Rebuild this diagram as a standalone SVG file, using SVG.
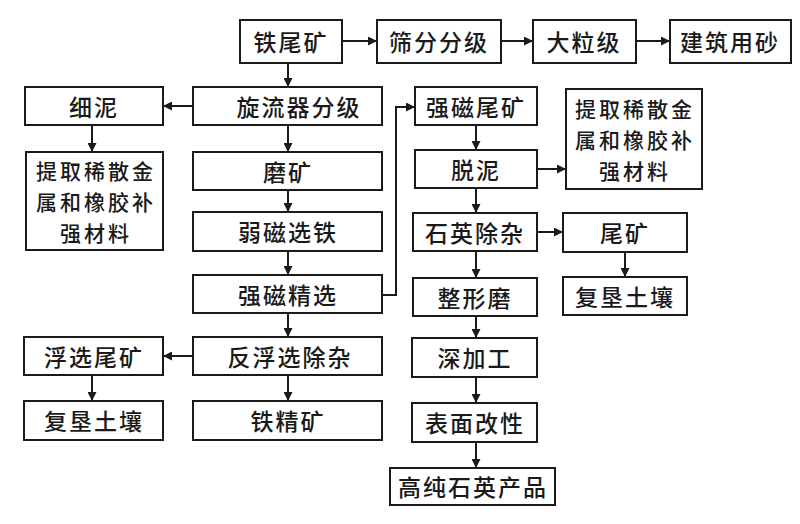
<svg xmlns="http://www.w3.org/2000/svg" width="800" height="524" viewBox="0 0 800 524">
<defs>
<marker id="ah" viewBox="0 0 10 10" refX="10" refY="5" markerWidth="9" markerHeight="9" markerUnits="userSpaceOnUse" orient="auto">
<path d="M0,0 L10,5 L0,10 Z" fill="#1a1a1a"/>
</marker>
<style>
.b{fill:#fff;stroke:#1a1a1a;stroke-width:2}
.t{font-family:"Noto Sans CJK SC","Noto Sans",sans-serif;font-size:23px;font-weight:500;fill:#1a1a1a;text-anchor:middle;dominant-baseline:central;letter-spacing:2px}
.m{font-size:21px;letter-spacing:3px}
.c{fill:none;stroke:#1a1a1a;stroke-width:2;marker-end:url(#ah)}
</style>
</defs>
<rect width="800" height="524" fill="#fff"/>
<g id="n1"><rect class="b" x="240" y="20" width="102" height="43"/><text class="t" x="291" y="41">铁尾矿</text></g>
<g id="n2"><rect class="b" x="377" y="20" width="124" height="43"/><text class="t" x="439" y="41">筛分分级</text></g>
<g id="n3"><rect class="b" x="533" y="20" width="103" height="43"/><text class="t" x="584" y="41">大粒级</text></g>
<g id="n4"><rect class="b" x="670" y="20" width="121" height="43"/><text class="t" x="730" y="41">建筑用砂</text></g>
<g id="n5"><rect class="b" x="25" y="87" width="138" height="38"/><text class="t" x="94" y="106">细泥</text></g>
<g id="n6"><rect class="b" x="193" y="87" width="189" height="38"/><text class="t" x="299" y="106">旋流器分级</text></g>
<g id="n7"><rect class="b" x="26" y="152" width="137" height="98"/><text class="t m" x="96" y="170">提取稀散金</text><text class="t m" x="96" y="201">属和橡胶补</text><text class="t m" x="96" y="232">强材料</text></g>
<g id="n8"><rect class="b" x="193" y="152" width="189" height="38"/><text class="t" x="288" y="171">磨矿</text></g>
<g id="n9"><rect class="b" x="193" y="212" width="189" height="39"/><text class="t" x="288" y="231">弱磁选铁</text></g>
<g id="n10"><rect class="b" x="193" y="275" width="189" height="38"/><text class="t" x="288" y="294">强磁精选</text></g>
<g id="n11"><rect class="b" x="193" y="337" width="189" height="38"/><text class="t" x="290" y="356">反浮选除杂</text></g>
<g id="n12"><rect class="b" x="193" y="401" width="189" height="39"/><text class="t" x="288" y="420">铁精矿</text></g>
<g id="n13"><rect class="b" x="24" y="337" width="139" height="38"/><text class="t" x="94" y="356">浮选尾矿</text></g>
<g id="n14"><rect class="b" x="24" y="401" width="139" height="39"/><text class="t" x="94" y="420">复垦土壤</text></g>
<g id="n15"><rect class="b" x="415" y="87" width="122" height="38"/><text class="t" x="476" y="106">强磁尾矿</text></g>
<g id="n16"><rect class="b" x="566" y="89" width="136" height="100"/><text class="t m" x="635" y="108">提取稀散金</text><text class="t m" x="635" y="139">属和橡胶补</text><text class="t m" x="635" y="170">强材料</text></g>
<g id="n17"><rect class="b" x="415" y="150" width="122" height="38"/><text class="t" x="476" y="169">脱泥</text></g>
<g id="n18"><rect class="b" x="413" y="213" width="124" height="38"/><text class="t" x="475" y="232">石英除杂</text></g>
<g id="n19"><rect class="b" x="563" y="213" width="124" height="39"/><text class="t" x="625" y="232">尾矿</text></g>
<g id="n20"><rect class="b" x="413" y="278" width="124" height="38"/><text class="t" x="475" y="297">整形磨</text></g>
<g id="n21"><rect class="b" x="563" y="277" width="124" height="38"/><text class="t" x="625" y="296">复垦土壤</text></g>
<g id="n22"><rect class="b" x="412" y="338" width="125" height="39"/><text class="t" x="475" y="357">深加工</text></g>
<g id="n23"><rect class="b" x="412" y="403" width="125" height="39"/><text class="t" x="475" y="422">表面改性</text></g>
<g id="n24"><rect class="b" x="390" y="468" width="165" height="37"/><text class="t" x="473" y="486">高纯石英产品</text></g>
<g id="connectors">
<path class="c" d="M342,41 H377"/>
<path class="c" d="M501,41 H533"/>
<path class="c" d="M636,41 H670"/>
<path class="c" d="M288,63 V87"/>
<path class="c" d="M193,106 H163"/>
<path class="c" d="M92,125 V152"/>
<path class="c" d="M288,125 V152"/>
<path class="c" d="M288,190 V212"/>
<path class="c" d="M288,251 V275"/>
<path class="c" d="M288,313 V337"/>
<path class="c" d="M193,356 H163"/>
<path class="c" d="M92,375 V401"/>
<path class="c" d="M288,375 V401"/>
<path class="c" d="M382,295 H396 V107 H415"/>
<path class="c" d="M476,125 V150"/>
<path class="c" d="M537,169 H566"/>
<path class="c" d="M476,188 V213"/>
<path class="c" d="M537,232 H563"/>
<path class="c" d="M625,252 V277"/>
<path class="c" d="M476,251 V278"/>
<path class="c" d="M476,316 V338"/>
<path class="c" d="M476,377 V403"/>
<path class="c" d="M476,442 V468"/>
</g>
</svg>
